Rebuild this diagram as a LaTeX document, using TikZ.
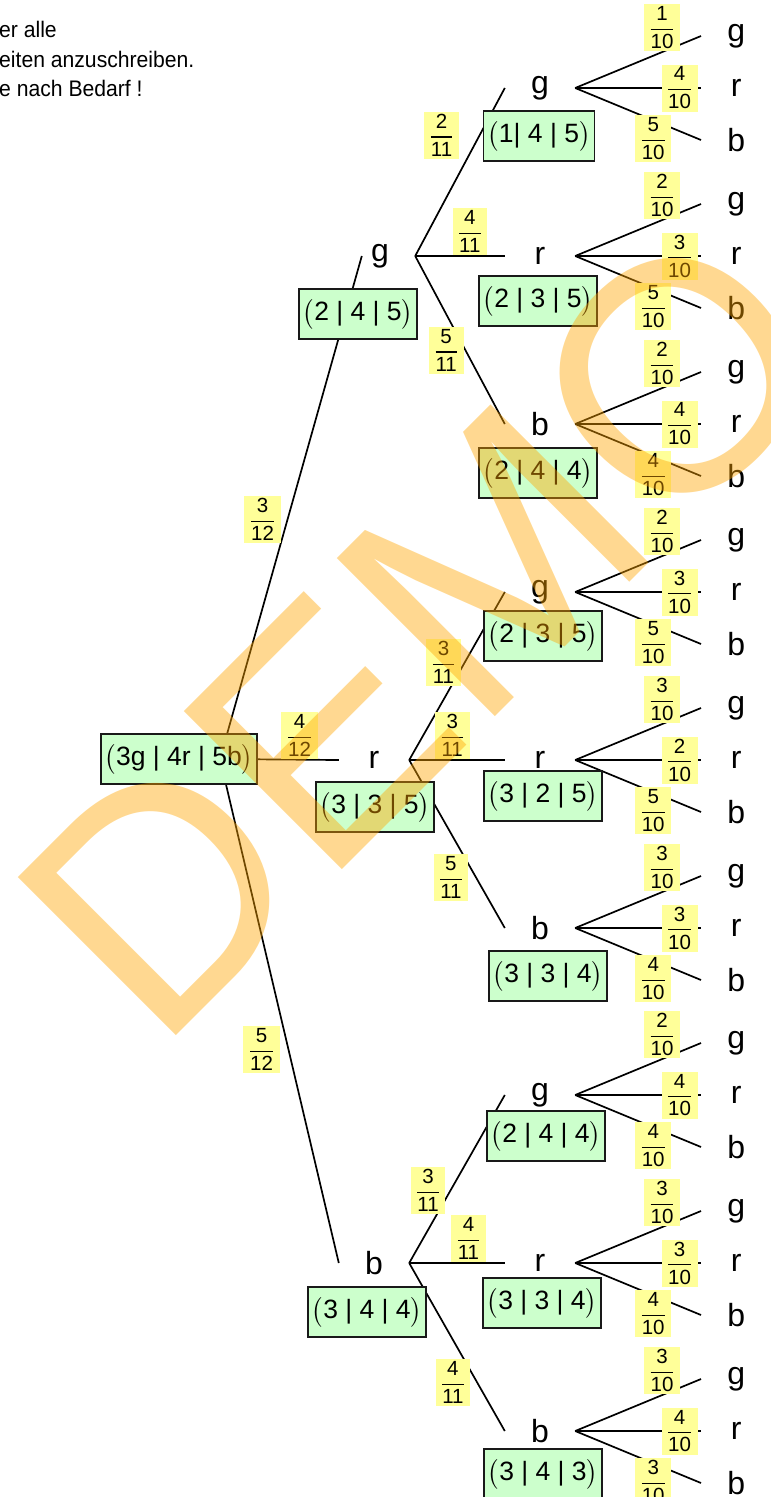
\RequirePackage{fix-cm}
\documentclass[tikz,border=0pt]{standalone}
\usepackage{amsmath}
\usepackage{fontspec}
\setmainfont{Liberation Sans}
\usetikzlibrary{positioning}
\definecolor{urnfill}{RGB}{204,255,204}
\definecolor{wkfill}{RGB}{255,255,153}
\definecolor{stamp}{RGB}{255,165,0}
% fraction and urn contents
\newcommand{\bruch}[2]{$\genfrac{}{}{1.2pt}{0}{\text{#1}}{\text{#2}}$}
\newcommand{\tupel}[1]{$\bigl(\text{#1}\bigr)$}
\tikzset{
  ast/.style={draw=black,line width=1.7pt},
  urne/.style={draw=black!90,line width=1.8pt,fill=urnfill,inner xsep=4pt,inner ysep=0pt,minimum height=50pt,font=\fontsize{26.5}{40}\selectfont},
  zug/.style={inner sep=0pt,minimum width=70pt,font=\fontsize{32}{32}\selectfont},
  wk/.style={fill=wkfill,inner xsep=5.5pt,inner ysep=0pt,minimum height=47pt,font=\fontsize{20.5}{23}\selectfont},
  hinweis/.style={anchor=base west,inner sep=0pt,xscale=0.94,transform shape,font=\fontsize{22.5}{26}\selectfont},
}

\begin{document}
\begin{tikzpicture}[x=1pt,y=-1pt]
\useasboundingbox (0,0) rectangle (771,1497);

\node[hinweis] (h1) at (-1,37) {er alle};
\node[hinweis] (h2) at (-1,67) {eiten anzuschreiben.};
\node[hinweis] (h3) at (-1,96) {e nach Bedarf !};

% first draw
\coordinate (wurzel) at (220,759);
\node[zug] (zg) at (380,256) {g};
\node[zug] (zr) at (374,760) {r};
\node[zug] (zb) at (374,1263) {b};

% second draw
\node[zug] (zgg) at (540,88) {g};
\node[zug] (zgr) at (540,256) {r};
\node[zug] (zgb) at (540,424) {b};
\node[zug] (zrg) at (540,592) {g};
\node[zug] (zrr) at (540,760) {r};
\node[zug] (zrb) at (540,928) {b};
\node[zug] (zbg) at (540,1095) {g};
\node[zug] (zbr) at (540,1263) {r};
\node[zug] (zbb) at (540,1431) {b};

\draw[ast] (wurzel) -- ([xshift=17pt]zg.west) node[wk,pos=0.476,left=6pt] (p-g) {\bruch{3}{12}};
\draw[ast] (wurzel) -- (zr.west) node[wk,pos=0.67,above=0pt] (p-r) {\bruch{4}{12}};
\draw[ast] (wurzel) -- (zb.west) node[wk,pos=0.577,left=8pt] (p-b) {\bruch{5}{12}};

\draw[ast] (zg.east) -- (zgg.west) node[wk,pos=0.72,left=20pt] (p-gg) {\bruch{2}{11}};
\draw[ast] (zg.east) -- (zgr.west) node[wk,pos=0.61,above=0pt] (p-gr) {\bruch{4}{11}};
\draw[ast] (zg.east) -- (zgb.west) node[wk,pos=0.56,left=1pt] (p-gb) {\bruch{5}{11}};
\draw[ast] (zr.east) -- (zrg.west) node[wk,pos=0.58,left=3pt] (p-rg) {\bruch{3}{11}};
\draw[ast] (zr.east) -- (zrr.west) node[wk,pos=0.45,above=0pt] (p-rr) {\bruch{3}{11}};
\draw[ast] (zr.east) -- (zrb.west) node[wk,pos=0.70,left=7pt] (p-rb) {\bruch{5}{11}};
\draw[ast] (zb.east) -- (zbg.west) node[wk,pos=0.43,left=4pt] (p-bg) {\bruch{3}{11}};
\draw[ast] (zb.east) -- (zbr.west) node[wk,pos=0.62,above=0pt] (p-br) {\bruch{4}{11}};
\draw[ast] (zb.east) -- (zbb.west) node[wk,pos=0.71,left=6pt] (p-bb) {\bruch{4}{11}};

% third draw: g / r / b with counts out of 10
\foreach \s/\oben/\mitte/\unten in {gg/1/4/5,gr/2/3/5,gb/2/4/4,rg/2/3/5,rr/3/2/5,rb/3/3/4,bg/2/4/4,br/3/3/4,bb/3/4/3}{
  \path (z\s.east) ++(161,-52) node[zug] (z\s-g) {g}
                   ++(0,52) node[zug] (z\s-r) {r}
                   ++(0,52) node[zug] (z\s-b) {b};
  \draw[ast] (z\s.east) -- (z\s-g.west) node[wk,pos=0.69,above=0pt] (p\s-g) {\bruch{\oben}{10}};
  \draw[ast] (z\s.east) -- (z\s-r.west) node[wk,pos=0.83] (p\s-r) {\bruch{\mitte}{10}};
  \draw[ast] (z\s.east) -- (z\s-b.west) node[wk,pos=0.62,below=-6pt] (p\s-b) {\bruch{\unten}{10}};
}

% urn contents after each draw
\node[urne] (u) at (179,759) {\tupel{3g | 4r | 5b}};
\node[urne] (u-g) at (358,314) {\tupel{2 | 4 | 5}};
\node[urne] (u-r) at (375,807) {\tupel{3 | 3 | 5}};
\node[urne] (u-b) at (367,1312) {\tupel{3 | 4 | 4}};
\node[urne] (u-gg) at (539,136) {\tupel{1| 4 | 5}};
\node[urne] (u-gr) at (538,301) {\tupel{2 | 3 | 5}};
\node[urne] (u-gb) at (538,473) {\tupel{2 | 4 | 4}};
\node[urne] (u-rg) at (543,636) {\tupel{2 | 3 | 5}};
\node[urne] (u-rr) at (543,796) {\tupel{3 | 2 | 5}};
\node[urne] (u-rb) at (548,976) {\tupel{3 | 3 | 4}};
\node[urne] (u-bg) at (546,1136) {\tupel{2 | 4 | 4}};
\node[urne] (u-br) at (542,1303) {\tupel{3 | 3 | 4}};
\node[urne] (u-bb) at (543,1474) {\tupel{3 | 4 | 3}};

\node[rotate=45,anchor=base west,inner sep=0pt,text=stamp,opacity=0.43,font=\fontsize{325}{325}\selectfont] (stempel) at (157,1055) {DEMO};
\end{tikzpicture}
\end{document}
